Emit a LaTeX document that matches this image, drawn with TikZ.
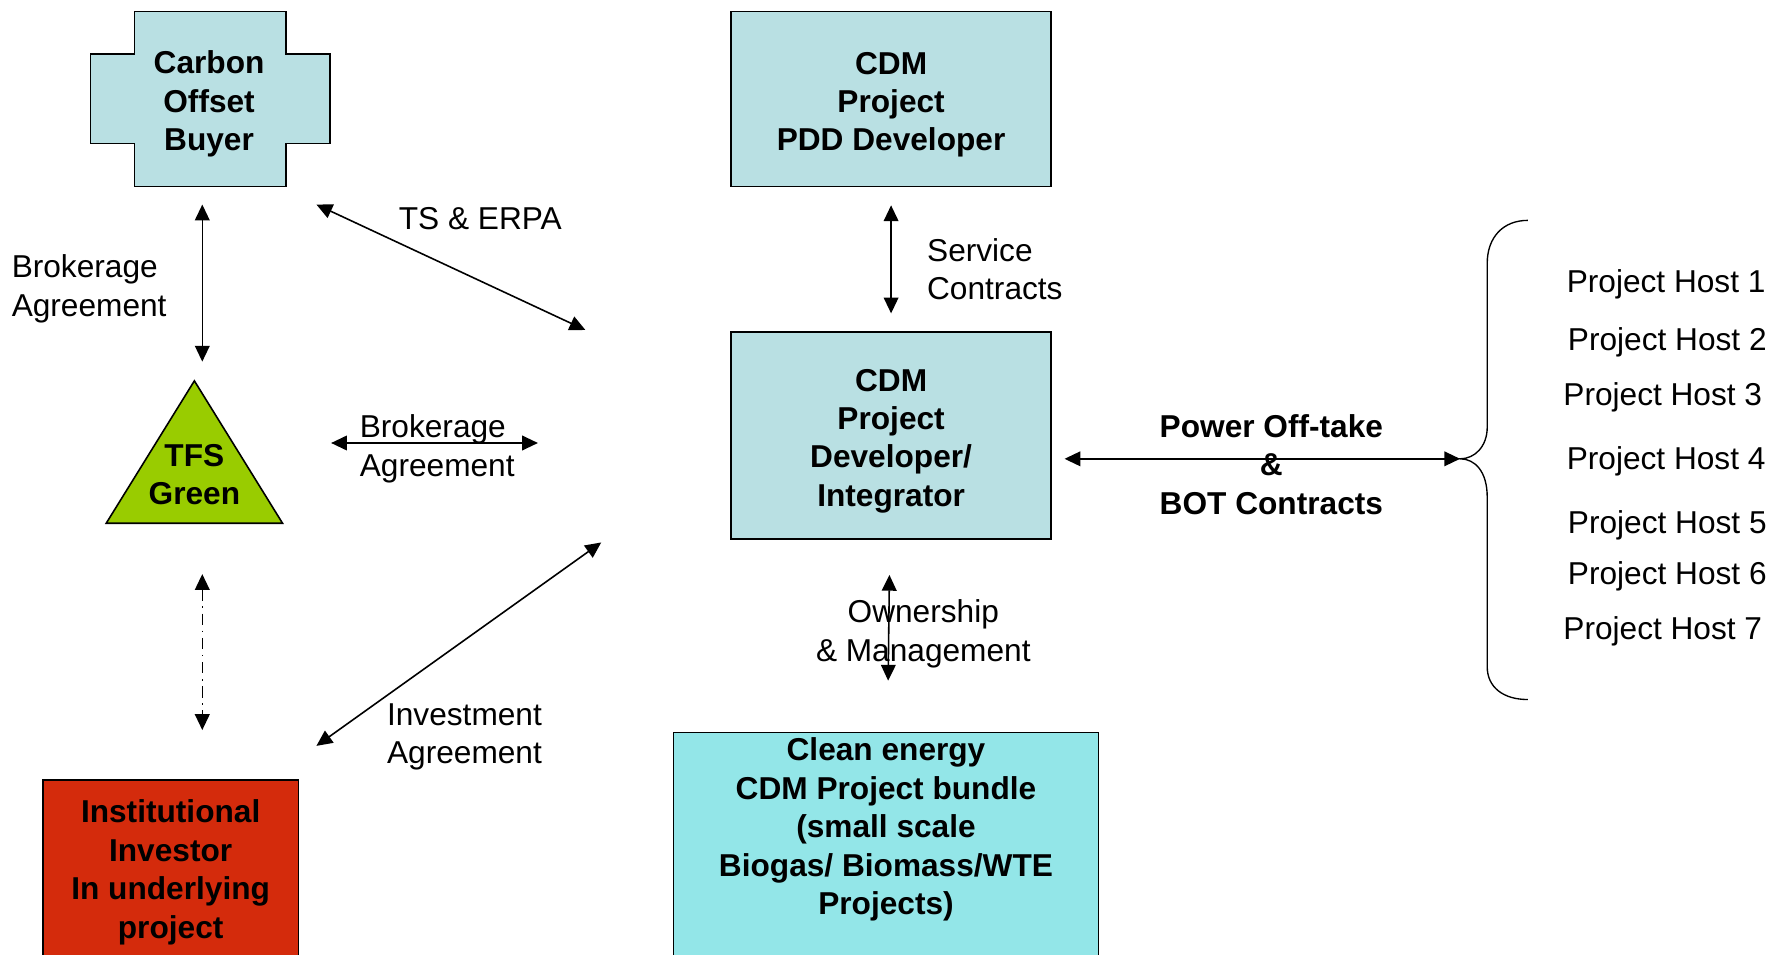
\documentclass[tikz,border=0pt]{standalone}
\usepackage{fontspec}
\setmainfont{Liberation Sans}
\usetikzlibrary{arrows.meta}
\definecolor{cdmblue}{HTML}{B9E0E3}
\definecolor{bundlecyan}{HTML}{93E6E8}
\definecolor{tfsgreen}{HTML}{99CC00}
\definecolor{investred}{HTML}{D42B0C}
\begin{document}
\begin{tikzpicture}[x=0.5pt,y=-0.5pt,
				every node/.style={font=\fontsize{14}{17}\selectfont,align=center,inner sep=0pt},
				heading/.style={font=\fontsize{14}{17}\selectfont\bfseries},
				box/.style={draw,line width=0.7pt,fill=cdmblue,minimum width=141.5pt},
				both/.style={{Triangle[length=7pt,width=6.5pt]}-{Triangle[length=7pt,width=6.5pt]},line width=0.7pt},
				dashdot/.style={dash pattern=on 5pt off 2.5pt on 0.7pt off 2.5pt}
]
\useasboundingbox[fill=white] (0,0) rectangle (1568,845);
\clip (0,0) rectangle (1568,845);
\draw[line width=0.7pt,fill=cdmblue] (119,10) -- (253,10) -- (253,48) -- (292,48) -- (292,127) -- (253,127) -- (253,165) -- (119,165) -- (119,127) -- (80,127) -- (80,48) -- (119,48) -- cycle;
\node[heading] (buyer) at (185,92) {Carbon\\Offset\\Buyer};
\draw[line width=0.7pt,fill=tfsgreen] (172,337) -- (250,463) -- (94,463) -- cycle;
\node[heading] (tfs) at (172,420) {TFS\\Green};
\node[box,heading,minimum height=77.5pt] (pdd) at (788.5,87.5) {\rule{0pt}{15pt}CDM\\Project\\PDD Developer};
\node[box,heading,minimum height=91.5pt] (integ) at (788.5,385.5) {\rule{0pt}{14.5pt}CDM\\Project\\Developer/\\Integrator};
\node[draw,line width=0.7pt,fill=investred,heading,minimum width=113pt,minimum height=79pt] (investor) at (151,769) {\rule{0pt}{13pt}Institutional\\Investor\\In underlying\\project};
\node[draw,line width=0.7pt,fill=bundlecyan,minimum width=188pt,minimum height=111pt] (bundle) at (784,759) {};
\node[heading] (bundletext) at (784,734) {Clean energy\\CDM Project bundle\\(small scale\\Biogas/ Biomass/WTE\\Projects)};
\node (tserpa) at (425,193) {TS \& ERPA};
\node[anchor=west,align=left] (brokbuyer) at (10,255.5) {Brokerage\\Agreement};
\node[anchor=west,align=left] (broktfs) at (318,397) {Brokerage\\Agreement};
\node (invest) at (411,652) {Investment\\Agreement};
\node[anchor=west,align=left] (service) at (820,238) {Service\\Contracts};
\node (owner) at (817,561) {Ownership\\\& Management};
\node[heading] (power) at (1125,411) {Power Off-take\\\&\\BOT Contracts};
\foreach \i/\x/\y in {1/1386/252,2/1387/303,3/1383/352,4/1386/408,5/1387/465,6/1387/510,7/1383/559}
	\node[anchor=west] (host\i) at (\x,\y) {Project Host \i};
\coordinate (b1) at (179,181);
\coordinate (b2) at (179,320);
\coordinate (t1) at (280,181);
\coordinate (t2) at (518,292);
\coordinate (k1) at (293,392);
\coordinate (k2) at (476,392);
\coordinate (d1) at (179,508);
\coordinate (d2) at (179,646);
\coordinate (i1) at (280,660);
\coordinate (i2) at (532,480);
\coordinate (p1) at (942,406);
\coordinate (brace) at (1292,406);
\draw[both] (b1) -- (b2);
\draw[both] (t1) -- (t2);
\draw[both] (k1) -- (k2);
\draw[both,dashdot] (d1) -- (d2);
\draw[both] (i1) -- (i2);
\draw[both,shorten <=8pt,shorten >=8pt] (pdd) -- (integ);
\draw[both,shorten <=15.5pt,shorten >=22.5pt] (integ) -- (bundle);
\draw[both] (p1) -- (brace);
\draw[line width=0.6pt] (1352,195) .. controls (1330,195) and (1316,210) .. (1316,233) -- (1316,378) .. controls (1316,395) and (1305,406) .. (brace) .. controls (1305,406) and (1316,417) .. (1316,440) -- (1316,590) .. controls (1316,608) and (1330,619) .. (1352,619);
\end{tikzpicture}
\end{document}
